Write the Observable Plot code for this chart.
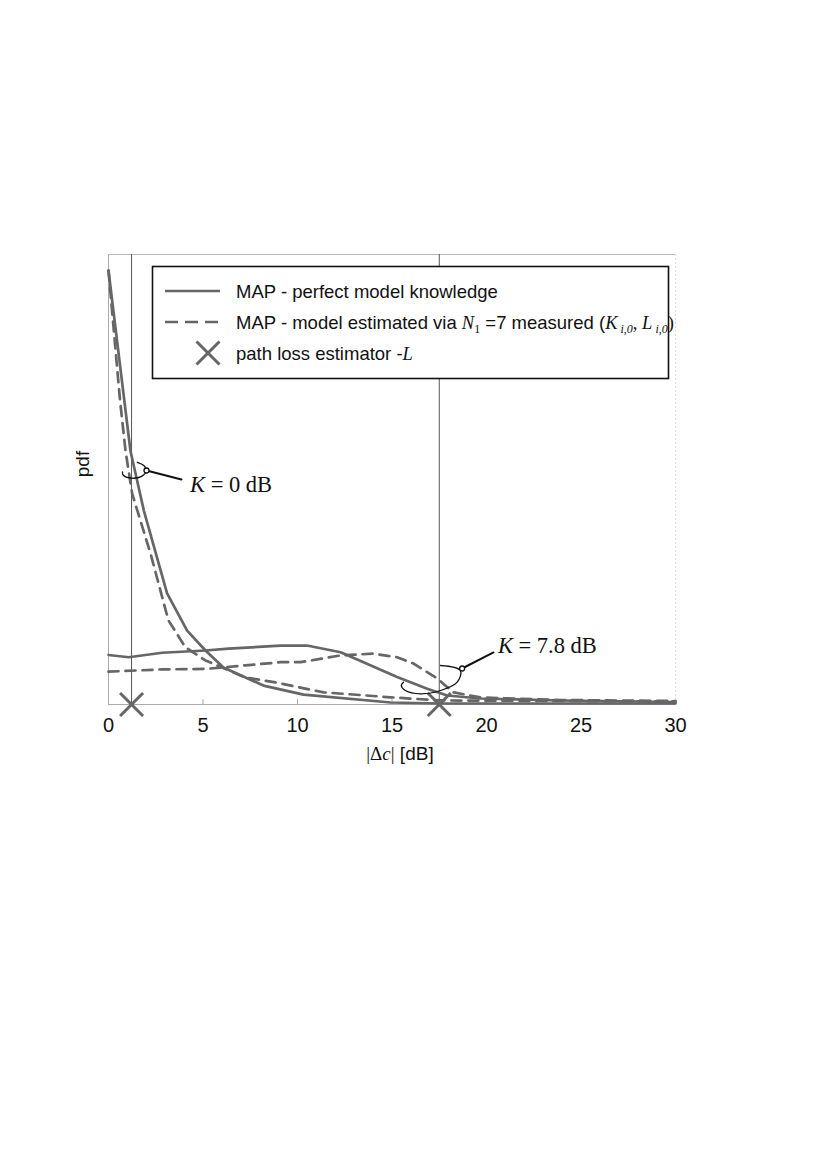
<!DOCTYPE html>
<html><head><meta charset="utf-8">
<script src="https://cdn.jsdelivr.net/npm/d3@7"></script>
<script src="https://cdn.jsdelivr.net/npm/@observablehq/plot@0.6"></script>
<style>body{margin:0;background:#fff;} #chart{width:817px;height:1155px;}</style>
</head><body><div id="chart"></div>
<script>
// ---- data ----
const xTicks = [0, 5, 10, 15, 20, 25, 30];

// K = 0 dB, MAP perfect model knowledge (solid)
const k0SolidX = [0, 1.16, 1.87, 3.1, 4.16, 5.13, 6.08, 8.2, 10.32, 14.92, 17.57, 30];
const k0SolidY = [0.964, 0.564, 0.431, 0.247, 0.164, 0.12, 0.082, 0.042, 0.022, 0.0044, 0.0022, 0.0022];
// K = 0 dB, MAP model estimated (dashed)
const k0DashX = [0, 0.61, 0.9, 1.25, 2.22, 3.17, 4.07, 5.13, 7.25, 8.84, 11.38, 14.92, 17.57, 30];
const k0DashY = [0.964, 0.676, 0.564, 0.469, 0.336, 0.187, 0.127, 0.098, 0.06, 0.049, 0.027, 0.016, 0.009, 0.0067];
// K = 7.8 dB, solid
const k78SolidX = [0, 1.07, 2.84, 5.13, 6.35, 9.1, 10.5, 12.28, 13.49, 15.27, 16.86, 17.92, 19.68, 23.92, 30];
const k78SolidY = [0.11, 0.105, 0.115, 0.12, 0.124, 0.131, 0.131, 0.116, 0.094, 0.061, 0.035, 0.02, 0.0133, 0.0089, 0.0056];
// K = 7.8 dB, dashed
const k78DashX = [0, 2.84, 5.13, 7.25, 9.1, 10.16, 12.28, 14.02, 15.27, 16.14, 17.39, 18.25, 19.68, 23.92, 30];
const k78DashY = [0.073, 0.078, 0.079, 0.087, 0.094, 0.094, 0.109, 0.113, 0.105, 0.091, 0.058, 0.027, 0.0156, 0.01, 0.0078];

// path loss estimator -L positions
const estimatorX = [1.22, 17.5];

// annotation loops (data units)
const loopK0X = [1.52, 1.87, 2.01, 1.75, 1.22, 0.77, 0.74];
const loopK0Y = [0.538, 0.531, 0.52, 0.507, 0.503, 0.51, 0.517];
const leaderK0X = [2.01, 3.86];
const leaderK0Y = [0.52, 0.5];
const loopK78X = [17.57, 18.62, 18.45, 17.57, 16.51, 15.71, 15.49, 15.61];
const loopK78Y = [0.0867, 0.0756, 0.0496, 0.0311, 0.0238, 0.0311, 0.0422, 0.0496];
const leaderK78X = [18.71, 20.37];
const leaderK78Y = [0.08, 0.1156];
const labelK0 = {x: 4.34, y: 0.471, value: "0 dB"};
const labelK78 = {x: 20.63, y: 0.1133, value: "7.8 dB"};

const legendLabels = ["MAP - perfect model knowledge", "MAP - model estimated via ", "path loss estimator -"];

// ---- build ----
const toPts = (xs, ys) => xs.map((x, i) => ({x, y: ys[i]}));
const SANS = "'Liberation Sans', Arial, sans-serif";
const SERIF = "'Liberation Serif', 'Times New Roman', serif";
const GRAY = "#666";

const plot = Plot.plot({
  width: 817, height: 1155,
  marginLeft: 108, marginRight: 142, marginTop: 254, marginBottom: 451,
  style: {fontFamily: SANS, fontSize: "20px", color: "#111", background: "white"},
  x: {domain: [0, 30]},
  y: {domain: [0, 1], axis: null},
  marks: [
    Plot.ruleY([1], {stroke: "#bbb", strokeWidth: 1}),
    Plot.ruleX([30], {stroke: "#ddd", strokeWidth: 1, strokeDasharray: "2,2"}),
    Plot.ruleX([0], {stroke: "#aaa", strokeWidth: 1}),
    Plot.ruleY([0], {stroke: "#aaa", strokeWidth: 1}),
    Plot.ruleX(xTicks.filter(d => d > 0 && d < 30), {y1: 0, y2: 0.011, stroke: "#aaa"}),
    Plot.axisX(xTicks, {tickSize: 0, tickPadding: 13, fontSize: 20, label: null, fill: "#111"}),
    Plot.ruleX(estimatorX, {stroke: "#555", strokeWidth: 1}),
    Plot.line(toPts(k0SolidX, k0SolidY), {x: "x", y: "y", stroke: GRAY, strokeWidth: 2.7}),
    Plot.line(toPts(k78SolidX, k78SolidY), {x: "x", y: "y", stroke: GRAY, strokeWidth: 2.7}),
    Plot.line(toPts(k0DashX, k0DashY), {x: "x", y: "y", stroke: GRAY, strokeWidth: 2.7, strokeDasharray: "10,7"}),
    Plot.line(toPts(k78DashX, k78DashY), {x: "x", y: "y", stroke: GRAY, strokeWidth: 2.7, strokeDasharray: "10,7"}),
    Plot.dot(estimatorX, {x: d => d, y: () => 0, symbol: "times", r: 10.5, stroke: GRAY, strokeWidth: 3}),
    Plot.line(toPts(loopK0X, loopK0Y), {x: "x", y: "y", stroke: "#111", strokeWidth: 1.3, curve: "catmull-rom"}),
    Plot.line(toPts(leaderK0X, leaderK0Y), {x: "x", y: "y", stroke: "#111", strokeWidth: 2}),
    Plot.line(toPts(loopK78X, loopK78Y), {x: "x", y: "y", stroke: "#111", strokeWidth: 1.3, curve: "catmull-rom"}),
    Plot.line(toPts(leaderK78X, leaderK78Y), {x: "x", y: "y", stroke: "#111", strokeWidth: 2}),
    Plot.dot([{x: leaderK0X[0], y: leaderK0Y[0]}, {x: leaderK78X[0], y: leaderK78Y[0]}], {x: "x", y: "y", r: 2.5, fill: "white", stroke: "#111", strokeWidth: 1.3})
  ]
});
document.getElementById("chart").append(plot);

const svg = d3.select(plot);
const sx = plot.scale("x"), sy = plot.scale("y");

// K annotations
for (const lab of [labelK0, labelK78]) {
  const t = svg.append("text")
    .attr("x", sx.apply(lab.x)).attr("y", sy.apply(lab.y)).attr("text-anchor", "start")
    .attr("font-family", SERIF).attr("font-size", 22.5).attr("fill", "#111");
  t.append("tspan").attr("font-style", "italic").text("K");
  t.append("tspan").text(" = " + lab.value);
}

// axis label
const xl = svg.append("text")
  .attr("x", 400).attr("y", 760).attr("text-anchor", "middle")
  .attr("font-family", SANS).attr("font-size", 19).attr("fill", "#111");
xl.append("tspan").attr("font-family", SERIF).text("|Δ");
xl.append("tspan").attr("font-family", SERIF).attr("font-style", "italic").text("c");
xl.append("tspan").attr("font-family", SERIF).text("|");
xl.append("tspan").text(" [dB]");

svg.append("text")
  .attr("transform", "translate(89,464) rotate(-90)")
  .attr("text-anchor", "middle")
  .attr("font-family", SANS).attr("font-size", 19).attr("fill", "#111")
  .text("pdf");

// legend
const lg = svg.append("g").attr("text-anchor", "start");
lg.append("rect").attr("x", 152.5).attr("y", 266.5).attr("width", 516).attr("height", 112)
  .attr("fill", "white").attr("stroke", "#111").attr("stroke-width", 1.6);
lg.append("line").attr("x1", 165).attr("x2", 220).attr("y1", 291).attr("y2", 291)
  .attr("stroke", GRAY).attr("stroke-width", 2.6);
lg.append("line").attr("x1", 165).attr("x2", 220).attr("y1", 322).attr("y2", 322)
  .attr("stroke", GRAY).attr("stroke-width", 2.6).attr("stroke-dasharray", "13,7");
lg.append("path").attr("d", d3.symbol(d3.symbolTimes, Math.PI * 10.5 * 10.5)())
  .attr("transform", "translate(208,353)").attr("fill", "none").attr("stroke", GRAY).attr("stroke-width", 3);

const rowStyle = sel => sel.attr("font-family", SANS).attr("font-size", 18.5).attr("fill", "#111").attr("text-anchor", "start");
rowStyle(lg.append("text").attr("x", 236).attr("y", 297.5)).text(legendLabels[0]);
const r2 = rowStyle(lg.append("text").attr("x", 236).attr("y", 328.5));
r2.append("tspan").text(legendLabels[1]);
r2.append("tspan").attr("font-family", SERIF).attr("font-style", "italic").text("N");
r2.append("tspan").attr("font-family", SERIF).attr("font-size", 12).attr("dy", 4).text("1");
r2.append("tspan").attr("dy", -4).text(" =7 measured (");
r2.append("tspan").attr("font-family", SERIF).attr("font-style", "italic").text("K");
r2.append("tspan").attr("font-family", SERIF).attr("font-style", "italic").attr("font-size", 12).attr("dy", 4).text(" i,0");
r2.append("tspan").attr("font-family", SERIF).attr("dy", -4).text(", ");
r2.append("tspan").attr("font-family", SERIF).attr("font-style", "italic").text("L");
r2.append("tspan").attr("font-family", SERIF).attr("font-style", "italic").attr("font-size", 12).attr("dy", 4).text(" i,0");
r2.append("tspan").attr("font-family", SERIF).attr("dy", -4).text(")");
const r3 = rowStyle(lg.append("text").attr("x", 236).attr("y", 359.5));
r3.append("tspan").text(legendLabels[2]);
r3.append("tspan").attr("font-family", SERIF).attr("font-style", "italic").text("L");
</script>
</body></html>
